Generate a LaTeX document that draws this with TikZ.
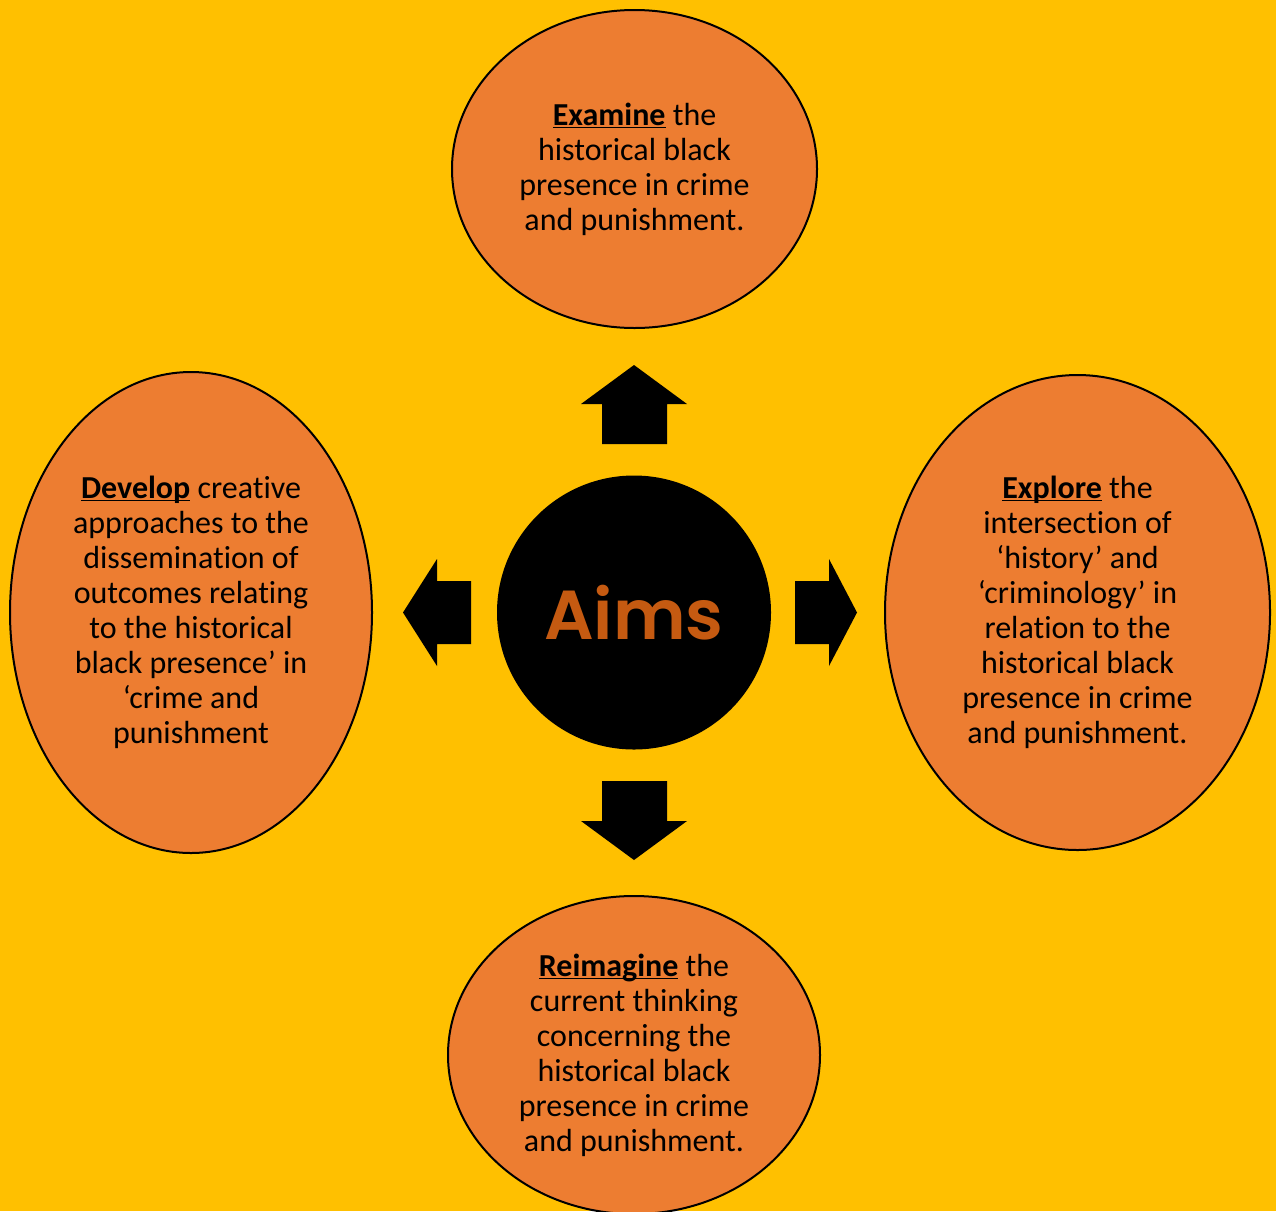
\documentclass[tikz,border=0pt]{standalone}
\usepackage{fontspec}
\setmainfont{Carlito}[Ligatures=NoCommon, Contextuals=NoAlternate]
\newfontfamily\aimsfont{Poppins SemiBold}
\usetikzlibrary{shapes.geometric}
\definecolor{pagebg}{HTML}{FFC000}
\definecolor{aimfill}{HTML}{ED7D31}
\definecolor{aimtext}{HTML}{C55A11}
\newcommand{\keyword}[1]{\underline{\smash{\textbf{#1}}}}
\tikzset{
  aim/.style={ellipse, draw=black, line width=1.5pt, fill=aimfill, inner sep=0pt,
    align=center, text=black, font=\fontsize{24pt}{26.25pt}\selectfont},
  blockarrow/.style={fill=black},
}
\begin{document}
\begin{tikzpicture}[x=0.75pt, y=-0.75pt]
  \fill[pagebg] (0,0) rectangle (1276,1211);
  \useasboundingbox (0,0) rectangle (1276,1211);
  \begin{scope}
    \clip (0,0) rectangle (1276,1211);

    % the four aims
    \node[aim, minimum width=365*0.75pt, minimum height=318*0.75pt] (examine) at (634.5,169)
      {\keyword{Examine} the\\historical black\\presence in crime\\and punishment.};
    \node[aim, minimum width=362*0.75pt, minimum height=481*0.75pt] (develop) at (191,612.5)
      {\keyword{Develop} creative\\approaches to the\\dissemination of\\outcomes relating\\to the historical\\black presence’ in\\‘crime and\\punishment};
    \node[aim, minimum width=385*0.75pt, minimum height=475*0.75pt] (explore) at (1077.5,612.5)
      {\keyword{Explore} the\\intersection of\\‘history’ and\\‘criminology’ in\\relation to the\\historical black\\presence in crime\\and punishment.};
    \node[aim, minimum width=372*0.75pt, minimum height=318*0.75pt] (reimagine) at (634,1055)
      {\keyword{Reimagine} the\\current thinking\\concerning the\\historical black\\presence in crime\\and punishment.};
  \end{scope}

  % central hub
  \node[circle, fill=black, minimum size=274*0.75pt, inner sep=0pt,
        text=aimtext, font=\aimsfont\fontsize{52pt}{60pt}\selectfont] (aims) at (634,612.5) {Aims};

  % block arrows pointing from the hub to each aim
  \fill[blockarrow] (602,444) -- (602,404) -- (581,404) -- (634,365) -- (687,404) -- (667,404) -- (667,444) -- cycle;
  \fill[blockarrow] (602,781) -- (602,821) -- (581,821) -- (634,860) -- (687,821) -- (667,821) -- (667,781) -- cycle;
  \fill[blockarrow] (471,581) -- (437,581) -- (437,559) -- (403,612.5) -- (437,666) -- (437,644) -- (471,644) -- cycle;
  \fill[blockarrow] (795,581) -- (829,581) -- (829,559) -- (857,612.5) -- (829,666) -- (829,644) -- (795,644) -- cycle;
\end{tikzpicture}
\end{document}
